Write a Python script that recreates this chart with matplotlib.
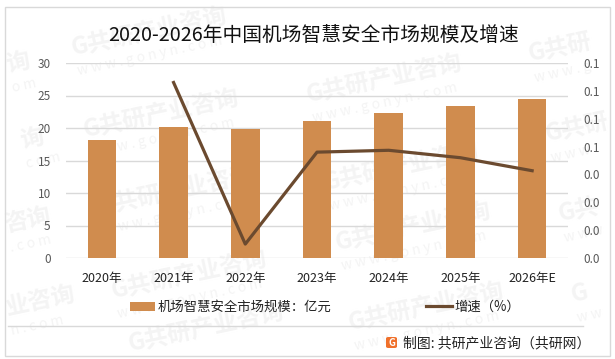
import numpy as np
import matplotlib
matplotlib.use('Agg')
import matplotlib.pyplot as plt
from matplotlib.patches import Rectangle, FancyBboxPatch

plt.rcParams['font.family'] = ['Noto Sans CJK SC', 'DejaVu Sans']

years = ['2020年', '2021年', '2022年', '2023年', '2024年', '2025年', '2026年E']
market_size = [18.15, 20.15, 19.85, 21.1, 22.3, 23.4, 24.5]
growth_years = ['2021年', '2022年', '2023年', '2024年', '2025年', '2026年E']
growth = [0.0945, 0.0075, 0.057, 0.058, 0.054, 0.047]
left_ticks = [0, 5, 10, 15, 20, 25, 30]
right_ticks = [0, 0.015, 0.03, 0.045, 0.06, 0.075, 0.09, 0.105]
right_labels = ['0.0', '0.0', '0.0', '0.0', '0.1', '0.1', '0.1', '0.1']

W, H = 615, 359
BAR_COLOR = '#D08C4E'
LINE_COLOR = '#6B4A2F'
GRID_COLOR = '#D9D9D9'
STAMP_COLOR = '#F4F4F4'
STAMP = 'G共研产业咨询'
SITE = 'w w w . g o n y n . c o m'


def px_x(x):
    return x / W


def px_y(y):
    return 1 - y / H


def draw_watermarks(fig):
    # x, y of the baseline start in pixels, then the part of each stamp that shows
    spots = [(73, 55, STAMP, SITE), (85, 137, STAMP, SITE), (308, 102, STAMP, SITE),
             (100, 214, STAMP, SITE), (113, 298, STAMP, SITE), (130, 351, STAMP, ''),
             (337, 250, STAMP, SITE), (350, 330, STAMP, SITE), (325, 190, STAMP, SITE),
             (530, 62, 'G共研', 'w w w . g'), (547, 142, 'G共研', 'w w w'),
             (560, 222, 'G共', 'w w w'), (573, 302, 'G', 'w w'),
             (8, 72, '询', 'o m'), (22, 148, '询', 'c o m'),
             (6, 232, '咨询', '. c o m'), (7, 315, '业咨询', 'n . c o m')]
    for x, y, stamp, site in spots:
        fig.text(px_x(x), px_y(y), stamp, fontsize=17, fontweight='bold',
                 color=STAMP_COLOR, rotation=12, rotation_mode='anchor', zorder=-2)
        if site:
            fig.text(px_x(x + 5), px_y(y + 20), site, fontsize=10,
                     color=STAMP_COLOR, rotation=12, rotation_mode='anchor', zorder=-2)


fig = plt.figure(figsize=(W / 100, H / 100), dpi=100, facecolor='white')

# outer frame
fig.add_artist(Rectangle((px_x(4.5), px_y(355.5)), 605 / W, 349 / H, transform=fig.transFigure,
                         fill=False, edgecolor=GRID_COLOR, linewidth=1, zorder=1))
draw_watermarks(fig)

ax = fig.add_axes([px_x(66), px_y(258), 502 / W, 195 / H])
ax.patch.set_alpha(0)
x = np.arange(len(years))
ax.bar(x, market_size, width=0.4, color=BAR_COLOR, label='机场智慧安全市场规模：亿元', zorder=2)
ax.set_xlim(-0.5, len(years) - 0.5)
ax.set_ylim(0, 30)
ax.set_yticks(left_ticks)
ax.set_xticks(x)
ax.set_xticklabels(years, fontsize=9, color='#222222')
ax.tick_params(axis='y', length=0, labelsize=8.5, labelcolor='#595959', pad=11)
ax.tick_params(axis='x', length=0, pad=10)
ax.grid(axis='y', color=GRID_COLOR, linewidth=1)
ax.set_axisbelow(True)
for side in ['top', 'right', 'left', 'bottom']:
    ax.spines[side].set_visible(False)

ax2 = ax.twinx()
ax2.patch.set_alpha(0)
growth_x = [years.index(y) for y in growth_years]
ax2.plot(growth_x, growth, color=LINE_COLOR, linewidth=2.3, label='增速（%）', zorder=3)
ax2.set_ylim(0, 0.105)
ax2.set_yticks(right_ticks)
ax2.set_yticklabels(right_labels)
ax2.tick_params(axis='y', length=0, labelsize=8.5, labelcolor='#595959', pad=11)
for side in ['top', 'right', 'left', 'bottom']:
    ax2.spines[side].set_visible(False)

fig.text(px_x(313.5), px_y(35), '2020-2026年中国机场智慧安全市场规模及增速', fontsize=14.2,
         color='#111111', ha='center', va='center')

handles = ax.get_legend_handles_labels()[0] + ax2.get_legend_handles_labels()[0]
labels = ax.get_legend_handles_labels()[1] + ax2.get_legend_handles_labels()[1]
fig.legend(handles, labels, loc='center', bbox_to_anchor=(px_x(325), px_y(307)), ncol=2, frameon=False,
           fontsize=9.6, handlelength=1.9, handletextpad=0.2, columnspacing=7.1, borderpad=0,
           labelcolor='#222222')

# footer rule and source
fig.add_artist(plt.Line2D([px_x(8), px_x(583)], [px_y(326), px_y(326)], color=GRID_COLOR, linewidth=1))
fig.add_artist(FancyBboxPatch((px_x(386), px_y(348)), 11 / W, 11 / H, boxstyle='round,pad=0,rounding_size=0.004',
                              transform=fig.transFigure, facecolor='#F0702A', edgecolor='none', zorder=4))
fig.text(px_x(391.5), px_y(342.5), 'G', fontsize=7, fontweight='bold', color='white', ha='center', va='center', zorder=5)
fig.text(px_x(403), px_y(343), '制图: 共研产业咨询（共研网）', fontsize=10, color='#222222', va='center')

fig.savefig('out.png', dpi=100)
